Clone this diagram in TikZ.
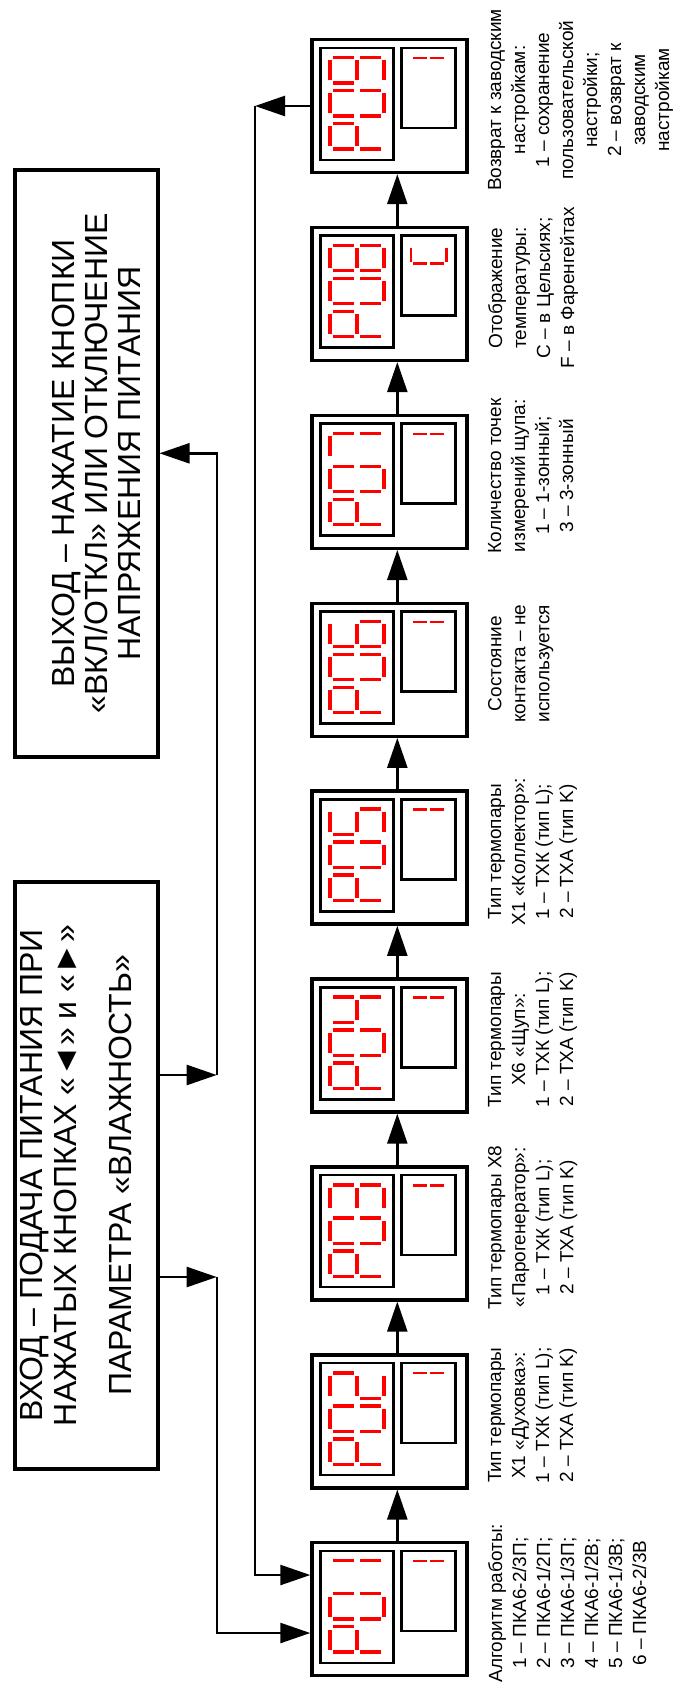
\documentclass[tikz,border=0pt]{standalone}
\usepackage{fontspec}
\setmainfont{Liberation Sans}
\usetikzlibrary{arrows.meta}
\def\dsega{(0,4.5) rectangle (4,24.5)}
\def\dsegg{(26.3,4.5) rectangle (30.3,24.5)}
\def\dsegd{(53.2,4.5) rectangle (57.2,24.5)}
\def\dsegb{(5,0) rectangle (25.3,3.4)}
\def\dsegc{(31.2,0) rectangle (52.4,3.4)}
\def\dsegf{(5,25.4) rectangle (25.3,28.8)}
\def\dsege{(31.2,25.4) rectangle (52.4,28.8)}
\begin{document}
\begin{tikzpicture}[x=0.5pt,y=-0.5pt,>={Triangle[length=15pt,width=10pt]},
  bigbox/.style={draw,line width=2pt,rotate=90,minimum width=293.5pt,minimum height=71.5pt,inner sep=0pt},
  bigtext/.style={rotate=90,anchor=north,align=center,inner sep=0pt,font=\fontsize{16}{#1}\selectfont},
  dev/.style={draw,line width=1.7pt,minimum width=77.5pt,minimum height=66.5pt,inner sep=0pt},
  panel/.style={line width=1.2pt},
  conn/.style={line width=1.2pt},
  note/.style={rotate=90,anchor=north,align=center,inner sep=0pt,font=\fontsize{9.5}{#1}\selectfont},
  pics/digit/.style={code={\edef\seglist{#1}\foreach \s in \seglist {\fill[red] \csname dseg\s\endcsname;}}}]
\useasboundingbox (0,0) rectangle (676,1700);
\node[bigbox] (entry) at (86,1175.5) {};
\node[bigtext=17] (entry text) at ([xshift=3.5pt]entry.north) {ВХОД – ПОДАЧА ПИТАНИЯ ПРИ\\НАЖАТЫХ КНОПКАХ «◄» и «►»\\[10.5pt]ПАРАМЕТРА «ВЛАЖНОСТЬ»};
\node[bigbox] (exit) at (86,463.5) {};
\node[bigtext=16.5] (exit text) at ([xshift=19.7pt]exit.north) {ВЫХОД – НАЖАТИЕ КНОПКИ\\«ВКЛ/ОТКЛ» ИЛИ ОТКЛЮЧЕНИЕ\\НАПРЯЖЕНИЯ ПИТАНИЯ};
\foreach \i/\n/\m in {1/{b,c}/{b,c},2/{a,b,g,e,d}/{b,c},3/{a,b,c,d,g}/{b,c},4/{f,g,b,c}/{b,c},5/{a,f,g,c,d}/{b,c},6/{a,f,g,e,c,d}/{b,c},7/{a,b,c}/{b,c},8/{a,b,c,d,e,f,g}/{a,d,e,f},9/{a,b,c,d,f,g}/{b,c}}{
  \node[dev] (d\i) at (389.5,{1609.2-(\i-1)*187.9}) {};
  \draw[panel] ([shift={(10,10)}]d\i.north west) rectangle ([shift={(83,122)}]d\i.north west);
  \draw[panel] ([shift={(91,10)}]d\i.north west) rectangle ([shift={(145,90)}]d\i.north west);
  \pic at ([shift={(18,18)}]d\i.north west) {digit=\n};
  \pic at ([shift={(18,51)}]d\i.north west) {digit={a,b,c,d,e,f}};
  \pic at ([shift={(18,84)}]d\i.north west) {digit={a,b,f,g,e}};
  \pic[xscale=0.66,yscale=0.69] at ([shift={(99.5,19)}]d\i.north west) {digit=\m};
}
\foreach \i/\sk/\txt in {1/12/{Алгоритм работы:\\1 – ПКА6-2/3П;\\2 – ПКА6-1/2П;\\3 – ПКА6-1/3П;\\4 – ПКА6-1/2В;\\5 – ПКА6-1/3В;\\6 – ПКА6-2/3В},
  2/12/{Тип термопары\\X1 «Духовка»:\\1 – ТХК (тип L);\\2 – ТХА (тип K)},
  3/12/{Тип термопары X8\\«Парогенератор»:\\1 – ТХК (тип L);\\2 – ТХА (тип K)},
  4/12/{Тип термопары\\X6 «Щуп»:\\1 – ТХК (тип L);\\2 – ТХА (тип K)},
  5/12/{Тип термопары\\X1 «Коллектор»:\\1 – ТХК (тип L);\\2 – ТХА (тип K)},
  6/12/{Состояние\\контакта – не\\используется},
  7/12/{Количество точек\\измерений щупа:\\1 – 1-зонный;\\3 – 3-зонный},
  8/12/{Отображение\\температуры:\\C – в Цельсиях;\\F – в Фаренгейтах},
  9/12/{Возврат к заводским\\настройкам:\\1 – сохранение\\пользовательской\\настройки;\\2 – возврат к\\заводским\\настройкам}}
  \node[note=\sk] (n\i) at ([xshift=9.5pt,yshift=3pt]d\i.east) {\txt};
\foreach \i [evaluate=\i as \j using int(\i+1)] in {1,...,8}
  \draw[conn,->] ([xshift=43.5pt]d\i.north west) -- ([xshift=43.5pt]d\j.south west);
\coordinate (jup) at (216.7,1075);
\coordinate (jdown) at (216.7,1277);
\coordinate (jloop) at (255,0 |- d9.west);
\draw[conn,->] (entry.south |- jup) -- (jup);
\draw[conn,->] (jup) |- (exit.south |- 0,453.3);
\draw[conn,->] (entry.south |- jdown) -- (jdown);
\draw[conn,->] (jdown) |- ([yshift=-46pt]d1.north west);
\draw[conn,->] (d9.west) -- (jloop);
\draw[conn,->] (jloop) |- ([yshift=-17pt]d1.north west);
\end{tikzpicture}
\end{document}
